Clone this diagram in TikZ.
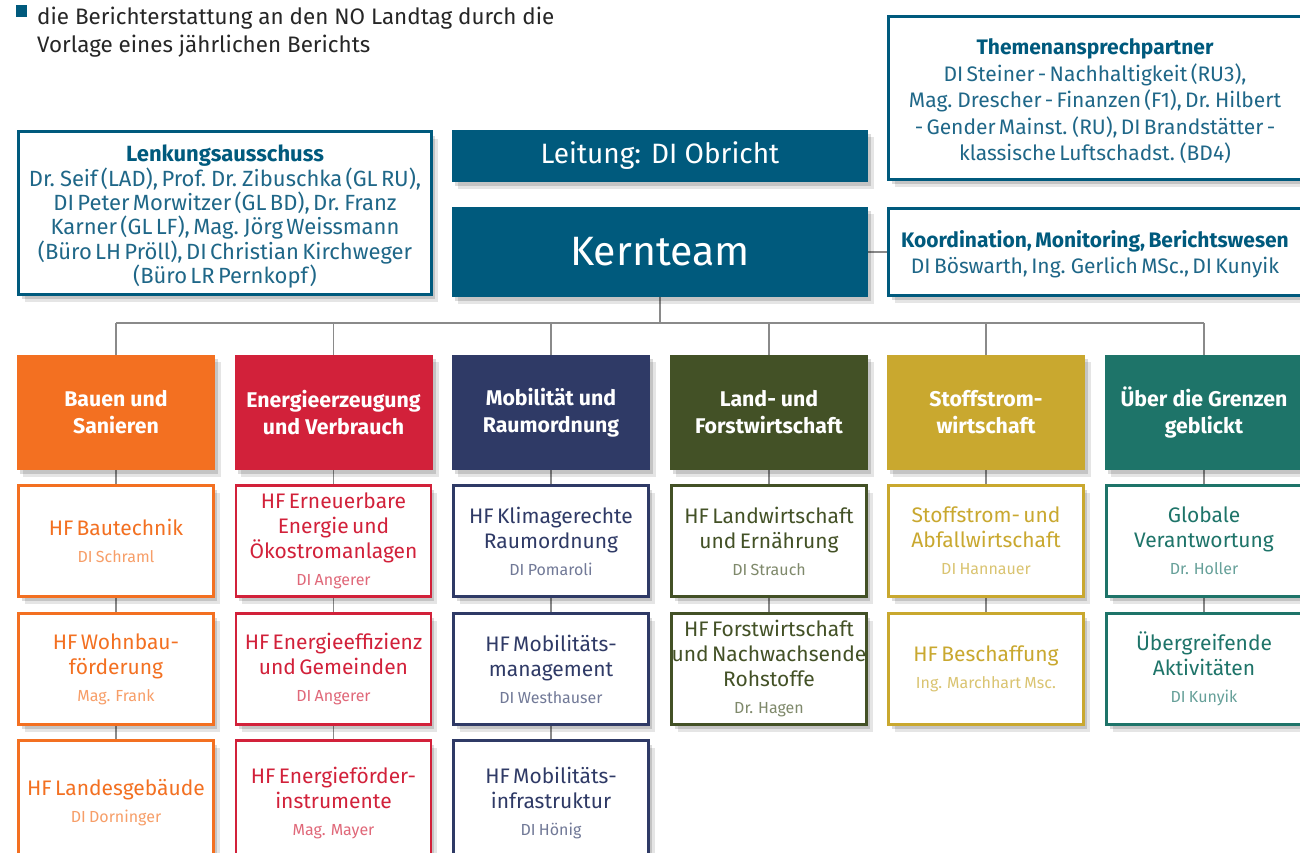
\documentclass[tikz,border=0pt]{standalone}
\usepackage{fontspec}
\setmainfont{Fira Sans}
\usetikzlibrary{shadows,backgrounds}
\pgfdeclarelayer{paper}
\pgfsetlayers{paper,background,main}
\definecolor{kteal}{HTML}{005A7D}
\definecolor{ktext}{HTML}{1F6788}
\definecolor{corange}{HTML}{F37021}
\definecolor{cred}{HTML}{D2213A}
\definecolor{cnavy}{HTML}{2F3A66}
\definecolor{colive}{HTML}{435126}
\definecolor{cgold}{HTML}{C9A82F}
\definecolor{cgreen}{HTML}{1E7469}
\definecolor{conngray}{HTML}{8A8A8A}
\newcommand\HFfont{\fontsize{21}{25}\selectfont}
\newcommand\NMfont{\fontsize{16}{27}\selectfont}
\newcommand\INFOfont{\fontsize{22}{24.3}\selectfont}
\newcommand\TPfont{\fontsize{21}{26.5}\selectfont}
\tikzset{
  softshadow/.style={
    general shadow={fill=black, opacity=0.10, shadow xshift=6pt, shadow yshift=-7pt},
    general shadow={fill=black, opacity=0.14, shadow xshift=3pt, shadow yshift=-4pt}},
  head/.style={fill=#1, text=white, font=\bfseries\fontsize{21.3}{27}\selectfont,
    minimum width=198, minimum height=115, align=center, inner sep=2, softshadow},
  sub/.style={draw=#1, line width=2.6, fill=white, text=#1, minimum width=195,
    minimum height=111, text width=193, align=center, inner xsep=0.5, softshadow},
  infobox/.style={draw=kteal, line width=2.6, fill=white, text=ktext, align=center,
    minimum width=413, text width=408, inner xsep=1, softshadow},
  darkbox/.style={fill=kteal, text=white, minimum width=416, softshadow},
  conn/.style={draw=conngray, line width=1.2},
}
\newcommand\subbox[6][]{\node[sub=#4,#1] (#2) at (#3) {{\HFfont #5\par}{\NMfont\color{#4!68}#6\par}};}
\begin{document}
\begin{tikzpicture}[x=1pt,y=-1pt]
\useasboundingbox (0,0) rectangle (1300,852);
\clip (0,0) rectangle (1300,852);
\begin{pgfonlayer}{paper}
\fill[white] (0,0) rectangle (1300,852);
\end{pgfonlayer}

% intro text
\node[fill=kteal, minimum width=11, minimum height=12, inner sep=0] (bul) at (21.5,11) {};
\node[anchor=base west, inner sep=0, font=\fontsize{22.4}{28}\selectfont, text=black!85] (intro1) at (37,24) {die Berichterstattung an den NO Landtag durch die};
\node[anchor=base west, inner sep=0, font=\fontsize{22.4}{28}\selectfont, text=black!85] (intro2) at (37,52) {Vorlage eines jährlichen Berichts};

% top boxes
\node[infobox, minimum height=163] (lenk) at (225,213) {{\INFOfont\bfseries\color{kteal}\rule{0pt}{24pt}Lenkungsausschuss\par}{\INFOfont Dr. Seif (LAD), Prof. Dr. Zibuschka (GL RU),\\DI Peter Morwitzer (GL BD), Dr. Franz\\Karner (GL LF), Mag. Jörg Weissmann\\(Büro LH Pröll), DI Christian Kirchweger\\(Büro LR Pernkopf)\par}};
\node[darkbox, minimum height=52, font=\fontsize{28}{32}\selectfont] (leit) at (660,156) {Leitung: DI Obricht};
\node[darkbox, minimum height=90, font=\fontsize{41}{46}\selectfont] (kern) at (660,252) {Kernteam};
\node[infobox, minimum height=163] (themen) at (1095,98) {{\TPfont\bfseries\color{kteal}\rule{0pt}{23pt}Themenansprechpartner\par}{\TPfont DI Steiner - Nachhaltigkeit (RU3),\\Mag. Drescher - Finanzen (F1), Dr. Hilbert\\- Gender Mainst. (RU), DI Brandstätter -\\klassische Luftschadst. (BD4)\par}};
\node[infobox, minimum height=87] (koord) at (1095,252) {{\fontsize{21}{26}\selectfont\bfseries\color{kteal}\rule{0pt}{21pt}Koordination, Monitoring, Berichtswesen\par}{\fontsize{21}{26}\selectfont DI Böswarth, Ing. Gerlich MSc., DI Kunyik\par}};

% headers
\node[head=corange] (h1) at (116,412.5) {Bauen und\\Sanieren};
\node[head=cred] (h2) at (333.5,412.5) {Energieerzeugung\\und Verbrauch};
\node[head=cnavy] (h3) at (551,412.5) {Mobilität und\\Raumordnung};
\node[head=colive] (h4) at (769,412.5) {Land- und\\Forstwirtschaft};
\node[head=cgold] (h5) at (986,412.5) {Stoffstrom-\\wirtschaft};
\node[head=cgreen] (h6) at (1204,412.5) {Über die Grenzen\\geblickt};

% row 1
\subbox{a1}{116,541}{corange}{HF Bautechnik}{DI Schraml}
\subbox{a2}{333.5,541}{cred}{HF Erneuerbare\\Energie und\\Ökostromanlagen}{DI Angerer}
\subbox{a3}{551,541}{cnavy}{HF Klimagerechte\\Raumordnung}{DI Pomaroli}
\subbox{a4}{769,541}{colive}{HF Landwirtschaft\\und Ernährung}{DI Strauch}
\subbox{a5}{986,541}{cgold}{Stoffstrom- und\\Abfallwirtschaft}{DI Hannauer}
\subbox{a6}{1204,541}{cgreen}{Globale\\Verantwortung}{Dr. Holler}
% row 2
\subbox{b1}{116,669}{corange}{HF Wohnbau-\\förderung}{Mag. Frank}
\subbox{b2}{333.5,669}{cred}{HF Energieeffizienz\\und Gemeinden}{DI Angerer}
\subbox{b3}{551,669}{cnavy}{HF Mobilitäts-\\management}{DI Westhauser}
\subbox{b4}{769,669}{colive}{HF Forstwirtschaft\\\makebox[\linewidth]{und Nachwachsende}\\Rohstoffe}{Dr. Hagen}
\subbox{b5}{986,669}{cgold}{HF Beschaffung}{Ing. Marchhart Msc.}
\subbox{b6}{1204,669}{cgreen}{Übergreifende\\Aktivitäten}{DI Kunyik}
% row 3
\subbox[minimum height=125]{c1}{116,803}{corange}{HF Landesgebäude}{DI Dorninger}
\subbox[minimum height=125]{c2}{333.5,803}{cred}{HF Energieförder-\\instrumente}{Mag. Mayer}
\subbox[minimum height=125]{c3}{551,803}{cnavy}{HF Mobilitäts-\\infrastruktur}{DI Hönig}

% connectors
\coordinate (busL) at (116,323);
\coordinate (busR) at (1204,323);
\begin{scope}[on background layer]
\draw[conn] (kern.east) -- (koord.west);
\draw[conn] (kern.south) -- (kern.south |- busL);
\draw[conn] (busL) -- (busR);
\foreach \h in {h1,h2,h3,h4,h5,h6}{\draw[conn] (\h.north) -- (\h.north |- busL);}
\foreach \u/\l in {h1/a1,a1/b1,b1/c1,h2/a2,a2/b2,b2/c2,h3/a3,a3/b3,b3/c3,h4/a4,a4/b4,h5/a5,a5/b5,h6/a6,a6/b6}{\draw[conn] (\u.south) -- (\l.north);}
\end{scope}
\end{tikzpicture}
\end{document}
